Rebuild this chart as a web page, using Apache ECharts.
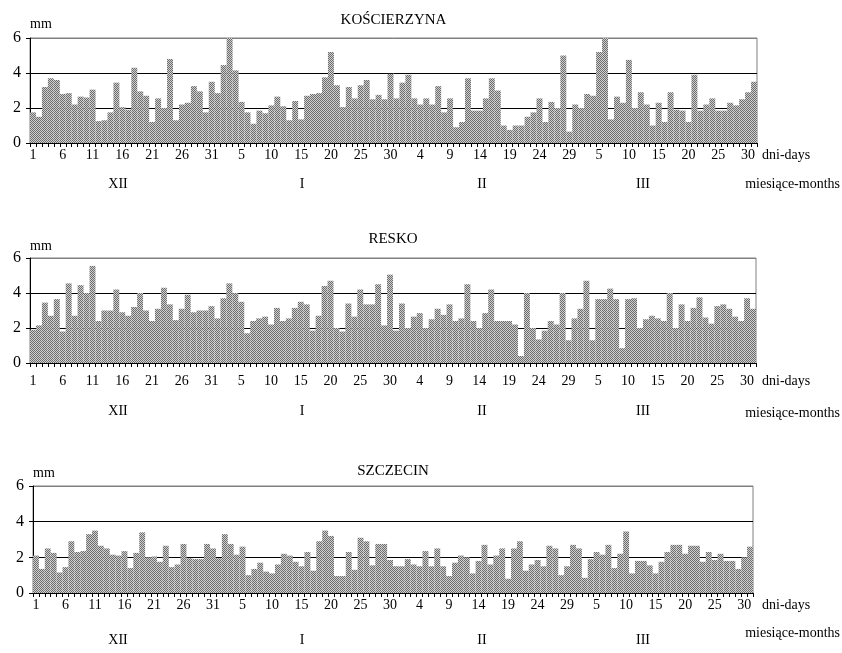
<!DOCTYPE html>
<html><head><meta charset="utf-8">
<script src="https://cdn.jsdelivr.net/npm/echarts@6/dist/echarts.min.js"></script>
<style>html,body{margin:0;padding:0;background:#fff}#c{width:842px;height:653px}</style>
</head><body><div id="c"></div>
<script>
// Dec 1 - Mar 31 (leap year February)
const monthLengths = [31, 31, 29, 31];
const monthNames = ['XII', 'I', 'II', 'III'];
const stations = ['KOŚCIERZYNA', 'RESKO', 'SZCZECIN'];
const yTicks = [0, 2, 4, 6];
const dayAxisName = 'dni-days';
const monthAxisName = 'miesiące-months';
const unitName = 'mm';

const koscierzyna = [
  1.75,1.5,3.2,3.7,3.6,2.8,2.85,2.2,2.65,2.6,3.05,1.25,1.3,1.75,3.45,2.05,1.9,4.3,2.95,2.7,1.2,2.55,2.0,4.8,1.3,2.2,2.3,3.25,2.95,1.75,3.5,
  2.85,4.45,6.0,4.15,2.35,1.75,1.1,1.85,1.7,2.15,2.65,2.1,1.3,2.4,1.35,2.7,2.8,2.85,3.75,5.2,3.3,2.05,3.2,2.55,3.3,3.6,2.5,2.75,2.5,3.95,
  2.55,3.45,3.9,2.55,2.2,2.55,2.2,3.25,1.75,2.55,0.9,1.2,3.7,1.85,1.85,2.55,3.7,3.0,1.0,0.75,1.0,1.0,1.5,1.75,2.55,1.2,2.35,2.0,5.0,0.65,2.2,
  2.0,2.8,2.7,5.2,6.0,1.35,2.65,2.3,4.75,2.0,2.9,2.2,1.0,2.3,1.2,2.9,1.9,1.85,1.2,3.9,1.85,2.2,2.55,1.85,1.85,2.3,2.15,2.5,2.9,3.5
];
const resko = [
  1.9,2.15,3.45,2.7,3.65,1.8,4.55,2.7,4.45,4.0,5.55,2.4,3.0,3.0,4.2,2.9,2.7,3.2,4.0,3.0,2.4,3.1,4.3,3.35,2.45,3.1,3.9,2.9,3.0,3.0,3.25,
  2.55,3.7,4.55,4.0,3.5,1.7,2.4,2.55,2.65,2.2,3.15,2.4,2.55,3.15,3.5,3.35,1.85,2.7,4.4,4.7,2.0,1.8,3.4,2.65,4.2,3.35,3.35,4.5,2.15,5.05,
  1.85,3.4,2.0,2.65,2.85,2.0,2.5,3.1,2.75,3.35,2.4,2.55,4.5,2.4,2.0,2.85,4.2,2.4,2.4,2.4,2.2,0.4,4.0,2.0,1.35,1.85,2.4,2.2,4.0,
  1.3,2.55,3.1,4.7,1.3,3.65,3.65,4.25,3.65,0.85,3.65,3.7,2.0,2.5,2.7,2.55,2.4,4.0,2.0,3.35,2.4,3.15,3.75,2.6,2.25,3.25,3.35,3.1,2.65,2.4,3.7,3.1
];
const szczecin = [
  2.1,1.35,2.5,2.25,1.15,1.45,2.9,2.3,2.35,3.3,3.5,2.65,2.5,2.15,2.1,2.35,1.4,2.25,3.4,2.0,2.05,1.75,2.65,1.45,1.6,2.75,1.95,1.9,1.9,2.75,2.5,
  1.95,3.3,2.75,2.15,2.6,1.0,1.35,1.7,1.2,1.1,1.6,2.2,2.1,1.75,1.5,2.3,1.25,2.9,3.5,3.2,0.95,0.95,2.3,1.3,3.1,2.9,1.55,2.75,2.75,1.85,
  1.5,1.5,1.9,1.6,1.5,2.35,1.5,2.5,1.5,0.95,1.7,2.1,2.0,1.1,1.8,2.7,1.6,2.1,2.5,0.8,2.5,2.9,1.25,1.6,1.85,1.5,2.65,2.5,1.0,
  1.5,2.7,2.5,0.85,1.9,2.3,2.15,2.7,1.4,2.2,3.45,1.1,1.8,1.8,1.55,1.1,1.75,2.3,2.7,2.7,2.2,2.65,2.65,1.75,2.3,1.85,2.2,1.8,1.8,1.35,2.0,2.6
];

const days = [];
monthLengths.forEach(n => { for (let d = 1; d <= n; d++) days.push(String(d)); });
const seriesData = [koscierzyna, resko, szczecin];

function makePattern() {
  const c = document.createElement('canvas');
  c.width = 2; c.height = 2;
  const ctx = c.getContext('2d');
  ctx.fillStyle = '#d0d0d0'; ctx.fillRect(0, 0, 2, 2);
  ctx.fillStyle = '#6c6c6c'; ctx.fillRect(0, 0, 1, 1); ctx.fillRect(1, 1, 1, 1);
  return c;
}
const pattern = makePattern();

const FONT = 'Liberation Serif';
const layout = [
  { left: 30, width: 727, top: 38, height: 105, title: 28, mm: 31, labMargin: 5, lab: 155, month: 184, monthName: 184 },
  { left: 30, width: 726, top: 258, height: 105, title: 247, mm: 253, labMargin: 11, lab: 381, month: 411, monthName: 413 },
  { left: 33, width: 720, top: 486, height: 107, title: 479, mm: 480, labMargin: 5, lab: 605, month: 640, monthName: 633 }
];
const monthX = [118, 302, 482, 643];

const grids = [], xAxes = [], yAxes = [], series = [], graphics = [];
layout.forEach((L, i) => {
  grids.push({ left: L.left, width: L.width, top: L.top, height: L.height, show: true,
    borderColor: '#808080', borderWidth: 1, backgroundColor: 'transparent', containLabel: false });
  xAxes.push({
    gridIndex: i, type: 'category', data: days, boundaryGap: true,
    axisLine: { show: true, onZero: false, lineStyle: { color: '#000', width: 1 } },
    axisTick: { show: true, interval: 0, length: 4, lineStyle: { color: '#000' } },
    axisLabel: { interval: 4, color: '#000', fontFamily: FONT, fontSize: 14, margin: L.labMargin },
    splitLine: { show: false }
  });
  yAxes.push({
    gridIndex: i, type: 'value', min: yTicks[0], max: yTicks[yTicks.length - 1], interval: 2,
    axisLine: { show: true, lineStyle: { color: '#000', width: 1 } },
    axisTick: { show: true, length: 4, lineStyle: { color: '#000' } },
    axisLabel: { color: '#000', fontFamily: FONT, fontSize: 16, margin: 9 },
    splitLine: { show: true, lineStyle: { color: ['#000', '#000', '#000', '#808080'], width: 1 } }
  });
  series.push({
    type: 'bar', xAxisIndex: i, yAxisIndex: i, data: seriesData[i],
    barCategoryGap: 0, barGap: 0,
    itemStyle: { color: { image: pattern, repeat: 'repeat' } },
    emphasis: { disabled: true }, animation: false
  });
  const txt = (x, y, t, align, base, size) => graphics.push({
    type: 'text', x: x, y: y,
    style: { text: t, x: 0, y: 0, textAlign: align, textVerticalAlign: base,
      font: (size || 14) + 'px "' + FONT + '"', fill: '#000' }
  });
  txt(L.left + L.width / 2, L.title, stations[i], 'center', 'bottom', 15);
  txt(L.left, L.mm, unitName, 'left', 'bottom', 14);
  txt(762, L.lab, dayAxisName, 'left', 'middle', 14);
  monthNames.forEach((m, j) => txt(monthX[j], L.month, m, 'center', 'middle', 14));
  txt(842 - 2, L.monthName, monthAxisName, 'right', 'middle', 14);
});

const chart = echarts.init(document.getElementById('c'), null, { renderer: 'canvas' });
chart.setOption({
  animation: false,
  grid: grids, xAxis: xAxes, yAxis: yAxes, series: series,
  graphic: graphics
});
</script>
</body></html>
